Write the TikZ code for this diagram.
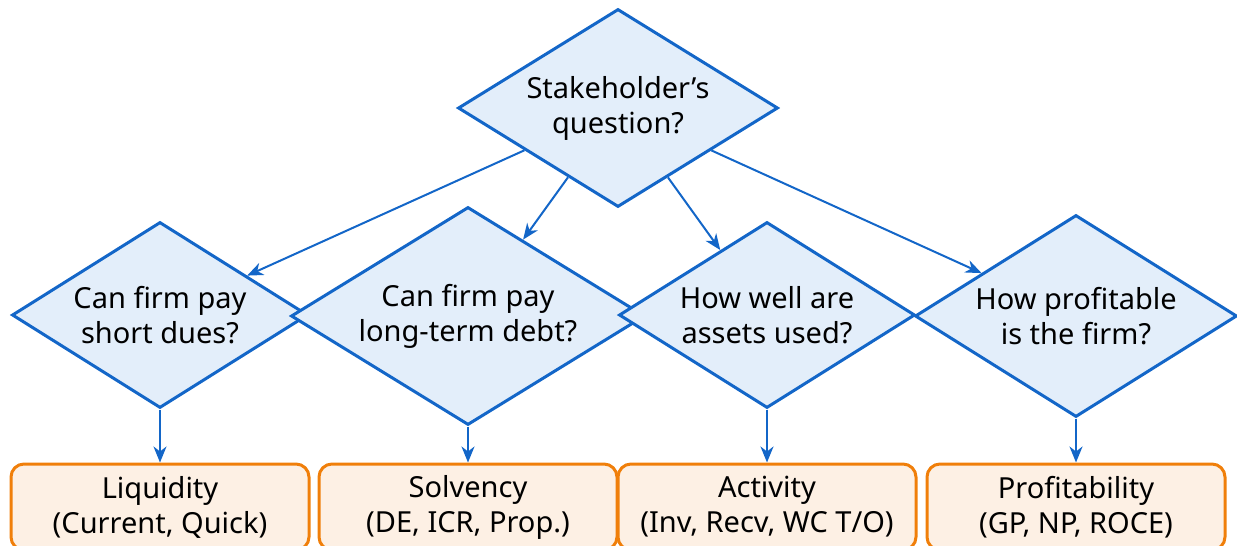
\documentclass[tikz,border=0pt]{standalone}
\usepackage{fontspec}
\setmainfont{Noto Sans}
\usetikzlibrary{shapes.geometric, arrows.meta}

\definecolor{qblue}{HTML}{1366C8}
\definecolor{qfill}{HTML}{E3EEFA}
\definecolor{rorange}{HTML}{F07F0A}
\definecolor{rfill}{HTML}{FDF0E4}

\begin{document}
\begin{tikzpicture}[x=0.5pt, y=-0.5pt,
  txt/.style={font=\fontsize{14.5pt}{17.5pt}\selectfont},
  question/.style={diamond, draw=qblue, fill=qfill, line width=1.5pt,
    aspect=1.6, inner sep=0pt, align=center, txt},
  ratiobox/.style={rectangle, rounded corners=6.5pt, draw=rorange, fill=rfill,
    line width=1.5pt, minimum width=149pt, minimum height=43pt,
    inner sep=0pt, align=center, txt},
  flow/.style={draw=qblue, line width=1pt,
    -{Stealth[length=8pt, width=6.5pt, inset=2.5pt]}}
]
\useasboundingbox (0,0) rectangle (1237,546);
\clip (0,0) rectangle (1237,546);

% root question
\node[question, minimum width=160pt, minimum height=99pt] (root) at (618,108)
  {Stakeholder’s\\question?};

% second-level questions (later ones overlap earlier ones)
\node[question, minimum width=148pt, minimum height=93pt] (q1) at (160,315)
  {Can firm pay\\short dues?};
\node[question, minimum width=177pt, minimum height=109pt] (q2) at (468,316)
  {Can firm pay\\long-term debt?};
\node[question, minimum width=148pt, minimum height=93pt] (q3) at (767,315)
  {How well are\\assets used?};
\node[question, minimum width=161pt, minimum height=101pt] (q4) at (1076,316)
  {How profitable\\is the firm?};

% ratio groups, each straight below its question
\node[ratiobox] (r1) at (160,507) {Liquidity\\(Current, Quick)};
\node[ratiobox] (r2) at (468,507) {Solvency\\(DE, ICR, Prop.)};
\node[ratiobox] (r3) at (767,507) {Activity\\(Inv, Recv, WC T/O)};
\node[ratiobox] (r4) at (1076,507) {Profitability\\(GP, NP, ROCE)};

% connectors
\draw[flow] (root) -- (q1);
\draw[flow] (root) -- (q2);
\draw[flow] (root) -- (q3);
\draw[flow] (root) -- (q4);
\draw[flow] (q1.south) -- (r1.north);
\draw[flow] (q2.south) -- (r2.north);
\draw[flow] (q3.south) -- (r3.north);
\draw[flow] (q4.south) -- (r4.north);
\end{tikzpicture}
\end{document}
